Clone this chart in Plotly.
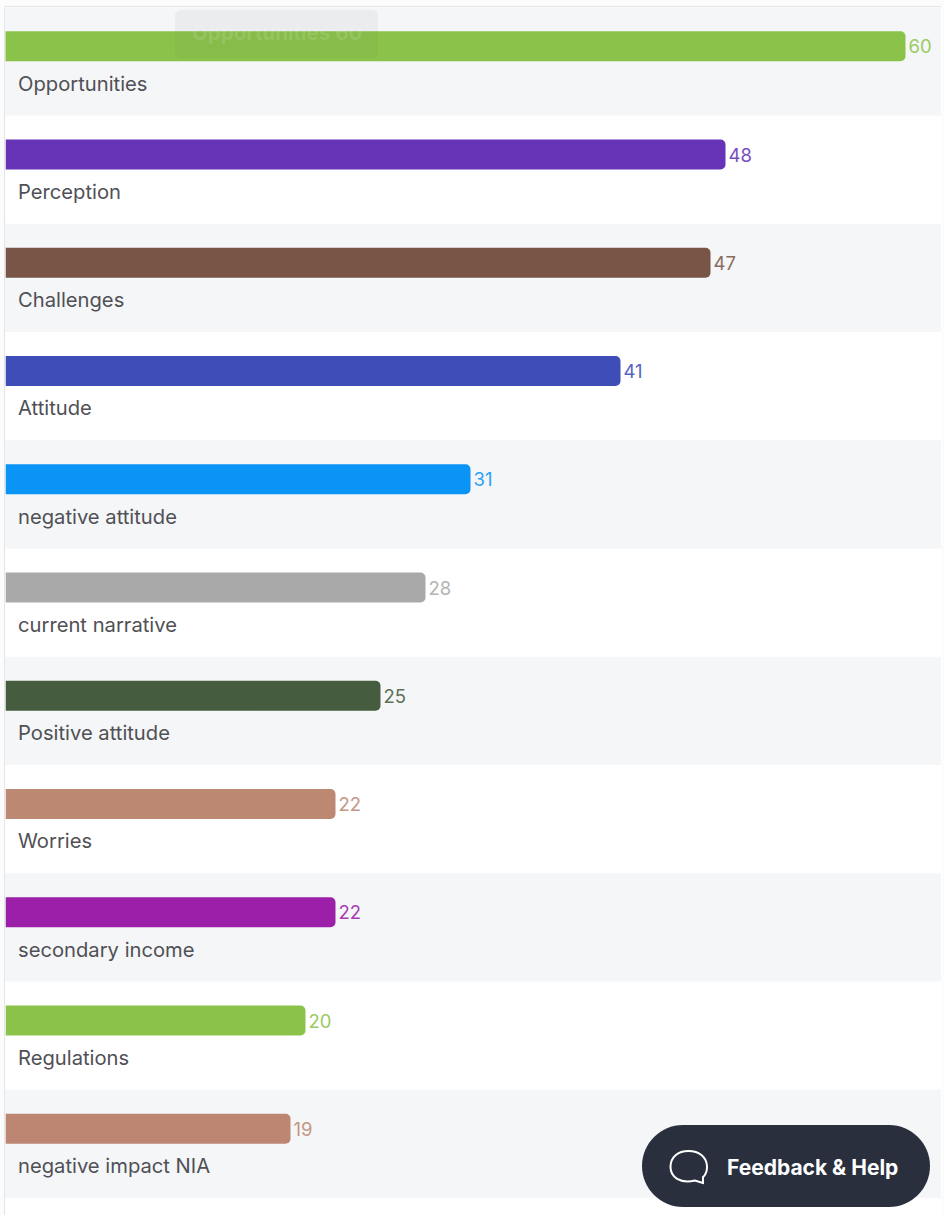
import plotly.graph_objects as go

categories = ["Opportunities", "Perception", "Challenges", "Attitude", "negative attitude",
              "current narrative", "Positive attitude", "Worries", "secondary income",
              "Regulations", "negative impact NIA"]
values = [60, 48, 47, 41, 31, 28, 25, 22, 22, 20, 19]
colors = ["#8BC34A", "#6734B7", "#795548", "#3F4DB8", "#0A94F6", "#A9A9A9",
          "#455C3E", "#BC8872", "#9C1FAA", "#8BC34A", "#BC8672"]

W, H = 944, 1215
LEFT, RIGHT = 5.5, 941.5
TOP, ROW = 7.3, 108.25
PX_PER_UNIT = 15
FONT = "Inter, Roboto, sans-serif"
n = len(categories)
BOTTOM = 1215
def px(x): return x / W
def py(y): return 1 - y / H
rows_visible = (BOTTOM - TOP) / ROW

def lighter(c, t=0.13):
    r, g, b = int(c[1:3], 16), int(c[3:5], 16), int(c[5:7], 16)
    return "#%02X%02X%02X" % tuple(round(v + (255 - v) * t) for v in (r, g, b))
label_colors = [lighter(c) for c in colors]

def rrect(x0, y0, x1, y1, r):
    k = r * 0.45
    P = lambda x, y: f"{px(x)} {py(y)}"
    return (f"M {P(x0+r,y0)} L {P(x1-r,y0)} C {P(x1-k,y0)} {P(x1,y0+k)} {P(x1,y0+r)} L {P(x1,y1-r)} "
            f"C {P(x1,y1-k)} {P(x1-k,y1)} {P(x1-r,y1)} L {P(x0+r,y1)} C {P(x0+k,y1)} {P(x0,y1-k)} {P(x0,y1-r)} "
            f"L {P(x0,y0+r)} C {P(x0,y0+k)} {P(x0+k,y0)} {P(x0+r,y0)} Z")

shapes = []
for i in range(0, n, 2):
    shapes.append(dict(type="rect", xref="paper", yref="y", x0=px(5), x1=px(941),
                       y0=i - 0.5, y1=i + 0.5, fillcolor="#F4F6F8", line_width=0, layer="below"))
# card border
shapes.append(dict(type="line", xref="paper", yref="paper", x0=px(4.5), x1=px(4.5), y0=py(7), y1=0,
                   line=dict(color="#E4E5E7", width=1), layer="below"))
shapes.append(dict(type="line", xref="paper", yref="paper", x0=px(4.5), x1=px(941), y0=py(6.5), y1=py(6.5),
                   line=dict(color="#E4E5E7", width=1), layer="below"))
# ghost tooltip, above bars
shapes.append(dict(type="path", xref="paper", yref="paper", path=rrect(175, 10, 378, 58, 6),
                   fillcolor="rgba(90,90,90,0.06)", line_width=0, layer="above"))
# feedback button
shapes.append(dict(type="path", xref="paper", yref="paper", path=rrect(642, 1125, 930, 1207, 41),
                   fillcolor="#292F3D", line_width=0, layer="above"))
# speech bubble icon
P = lambda x, y: f"{px(x)} {py(y)}"
shapes.append(dict(type="path", xref="paper", yref="paper",
                   path=(f"M {P(703,1183)} L {P(695,1180.5)} C {P(680,1184)} {P(670.5,1177)} {P(670.5,1167)} "
                         f"C {P(670.5,1157)} {P(678,1151)} {P(688.5,1151)} C {P(699,1151)} {P(707,1157)} {P(707,1167)} "
                         f"C {P(707,1171)} {P(705.5,1175)} {P(703,1177)} Z"),
                   fillcolor="rgba(0,0,0,0)", line=dict(color="#FFFFFF", width=2), layer="above"))

fig = go.Figure()
fig.add_trace(go.Bar(
    y=[i - 0.14 for i in range(n)], x=[v + 1 for v in values], base=-1, orientation="h",
    width=30 / ROW, marker=dict(color=colors, line_width=0, cornerradius=5),
    text=values, textposition="outside", cliponaxis=True, hoverinfo="skip",
    textfont=dict(family=FONT, size=18.5, color=label_colors),
    outsidetextfont=dict(family=FONT, size=18.5, color=label_colors),
))
fig.add_trace(go.Scatter(
    x=[12.5 / PX_PER_UNIT] * n, y=[i + 0.222 for i in range(n)], mode="text", text=categories, hoverinfo="skip",
    textposition="middle right", textfont=dict(family=FONT, size=20.2, color="#505055"), cliponaxis=False,
))
annotations = [
    dict(xref="paper", yref="paper", x=px(276.5), y=py(33), text="<b>Opportunities 60</b>", showarrow=False,
         xanchor="center", yanchor="middle",
         font=dict(family=FONT, size=20.5, color="rgba(255,255,255,0.13)")),
    dict(xref="paper", yref="paper", x=px(812.5), y=py(1167), text="<b>Feedback &amp; Help</b>", showarrow=False,
         xanchor="center", yanchor="middle",
         font=dict(family=FONT, size=21, color="#FFFFFF")),
]
fig.update_layout(
    width=W, height=H, margin=dict(l=0, r=0, t=0, b=0), showlegend=False,
    paper_bgcolor="#FCFCFC", plot_bgcolor="#FFFFFF", shapes=shapes, annotations=annotations, barmode="overlay",
    xaxis=dict(domain=[px(LEFT), px(RIGHT)], range=[0, (RIGHT - LEFT) / PX_PER_UNIT], visible=False, fixedrange=True),
    yaxis=dict(domain=[0, py(TOP)], range=[-0.5 + rows_visible, -0.5], visible=False, fixedrange=True),
)
fig.write_html("out.html", config=dict(displayModeBar=False),
               post_script="document.body.style.margin='0';document.body.style.overflow='hidden';")
